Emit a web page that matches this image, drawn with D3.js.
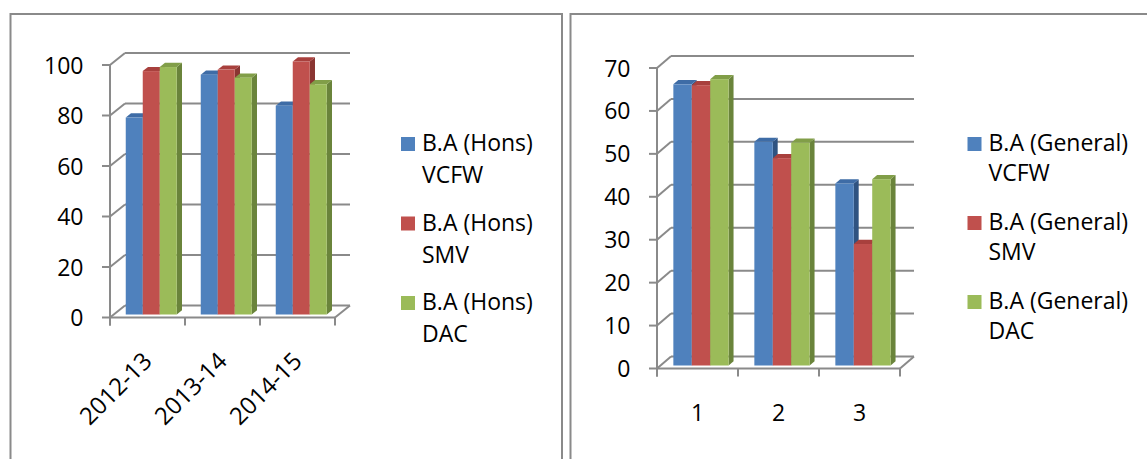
<!DOCTYPE html>
<html>
<head>
<meta charset="utf-8">
<script src="https://cdn.jsdelivr.net/npm/d3@7"></script>
<style>
  html, body { margin: 0; padding: 0; background: #ffffff; }
  svg { display: block; }
  text { font-family: "Open Sans", "Noto Sans", sans-serif; fill: #000; }
</style>
</head>
<body>
<svg id="chart" width="1147" height="459"></svg>
<script>
// ---------- data ----------
const honsCategories = ["2012-13", "2013-14", "2014-15"];
const honsSeries = ["B.A (Hons) VCFW", "B.A (Hons) SMV", "B.A (Hons) DAC"];
const honsVCFW = [78, 95, 82.7];
const honsSMV = [96.4, 97, 100.2];
const honsDAC = [98, 93.8, 91.2];
const honsTicks = [0, 20, 40, 60, 80, 100];

const genCategories = ["1", "2", "3"];
const genSeries = ["B.A (General) VCFW", "B.A (General) SMV", "B.A (General) DAC"];
const genVCFW = [65.5, 52.1, 42.4];
const genSMV = [65.3, 48.3, 28.3];
const genDAC = [66.7, 51.9, 43.4];
const genTicks = [0, 10, 20, 30, 40, 50, 60, 70];

// ---------- styles ----------
const frontColors = ["#4f81bd", "#c0504d", "#9bbb59"];
const sideColors = ["#2f5381", "#8a3532", "#6a843b"];
const topColors = ["#3e6ca6", "#a8403d", "#819e48"];
const gridColor = "#8a8a8a";

const svg = d3.select("#chart");

// panel borders
const border = svg.append("g").attr("fill", "none").attr("stroke", gridColor).attr("stroke-width", 2);
border.append("path").attr("d", "M10.5,459 L10.5,14 L562,14 L562,459");
border.append("path").attr("d", "M570.5,459 L570.5,14 L1147,14");

function drawChart(cfg) {
  const g = svg.append("g");
  const { x0, x1, yBase, yTop, dx, dy, maxV } = cfg;
  const y = d3.scaleLinear().domain([0, maxV]).range([yBase, yTop]);
  const xb = d3.scaleBand().domain(cfg.categories).range([x0, x1]);
  const xs = d3.scaleBand().domain(cfg.series).range([cfg.groupPad, xb.bandwidth() - cfg.groupPad]);
  const f = 0.25, bd = 0.35;

  const grid = g.append("g").attr("stroke", gridColor).attr("stroke-width", 2).attr("fill", "none");
  // back wall gridlines + side wall diagonals
  cfg.ticks.forEach(t => {
    const yy = y(t);
    grid.append("line").attr("x1", x0 + dx).attr("x2", x1 + dx).attr("y1", yy + dy).attr("y2", yy + dy);
    grid.append("line").attr("x1", x0).attr("x2", x0 + dx).attr("y1", yy).attr("y2", yy + dy);
    grid.append("line").attr("x1", x0 - 8).attr("x2", x0).attr("y1", yy).attr("y2", yy);
  });
  // floor
  grid.append("line").attr("x1", x0).attr("x2", x1).attr("y1", y(0)).attr("y2", y(0));
  grid.append("line").attr("x1", x1).attr("x2", x1 + dx).attr("y1", y(0)).attr("y2", y(0) + dy);
  // vertical axis
  grid.append("line").attr("x1", x0).attr("x2", x0).attr("y1", y(0) + 8).attr("y2", y(maxV));
  // category ticks
  const bounds = cfg.categories.map(c => xb(c)).concat([x1]);
  bounds.forEach(bx => {
    grid.append("line").attr("x1", bx).attr("x2", bx).attr("y1", y(0)).attr("y2", y(0) + 8);
  });

  // bars
  const bars = g.append("g");
  cfg.categories.forEach((c, ci) => {
    cfg.values.forEach((vals, si) => {
      const v = vals[ci];
      const xl = xb(c) + xs(cfg.series[si]) + f * dx;
      const xr = xl + xs.bandwidth();
      const yt = y(v) + f * dy;
      const yb = y(0) + f * dy;
      const ox = bd * dx, oy = bd * dy;
      bars.append("path")
        .attr("d", `M${xr},${yt} L${xr + ox},${yt + oy} L${xr + ox},${yb + oy} L${xr},${yb} Z`)
        .attr("fill", sideColors[si]);
      bars.append("path")
        .attr("d", `M${xl},${yt} L${xr},${yt} L${xr + ox},${yt + oy} L${xl + ox},${yt + oy} Z`)
        .attr("fill", topColors[si]);
      bars.append("rect")
        .attr("x", xl).attr("y", yt).attr("width", xs.bandwidth()).attr("height", yb - yt)
        .attr("fill", frontColors[si]);
    });
  });

  // y tick labels
  g.append("g").selectAll("text").data(cfg.ticks).join("text")
    .attr("x", x0 - 26.5).attr("y", d => y(d) + 8.5)
    .attr("text-anchor", "end").attr("font-size", 23)
    .text(d => d);

  // x labels
  const xl = g.append("g");
  cfg.categories.forEach(c => {
    const cx = xb(c) + xb.bandwidth() / 2;
    if (cfg.rotate) {
      xl.append("text")
        .attr("transform", `translate(${cx + 6},${y(0) + 45}) rotate(-45)`)
        .attr("text-anchor", "end").attr("font-size", 24).text(c);
    } else {
      xl.append("text")
        .attr("x", cx).attr("y", y(0) + 52)
        .attr("text-anchor", "middle").attr("font-size", 23).text(c);
    }
  });

  // legend
  const lg = g.append("g");
  cfg.series.forEach((s, i) => {
    const parts = s.split(/ (?=\S+$)/);
    const by = cfg.legendY + i * cfg.legendStep;
    lg.append("rect").attr("x", cfg.legendX).attr("y", by - 14).attr("width", 14).attr("height", 14)
      .attr("fill", frontColors[i]);
    lg.append("text").attr("x", cfg.legendX + 21).attr("y", by).attr("font-size", 23).text(parts[0]);
    lg.append("text").attr("x", cfg.legendX + 21).attr("y", by + cfg.lineStep).attr("font-size", 23).text(parts[1]);
  });
}

drawChart({
  x0: 110, x1: 335, yBase: 317.5, yTop: 65, dx: 15, dy: -12, maxV: 100,
  categories: honsCategories, series: honsSeries, values: [honsVCFW, honsSMV, honsDAC],
  ticks: honsTicks, groupPad: 12, rotate: true,
  legendX: 401, legendY: 151, legendStep: 79.5, lineStep: 32
});

drawChart({
  x0: 657, x1: 900, yBase: 368.5, yTop: 68, dx: 14, dy: -12, maxV: 70,
  categories: genCategories, series: genSeries, values: [genVCFW, genSMV, genDAC],
  ticks: genTicks, groupPad: 12.85, rotate: false,
  legendX: 967.5, legendY: 151, legendStep: 79, lineStep: 30
});
</script>
</body>
</html>
